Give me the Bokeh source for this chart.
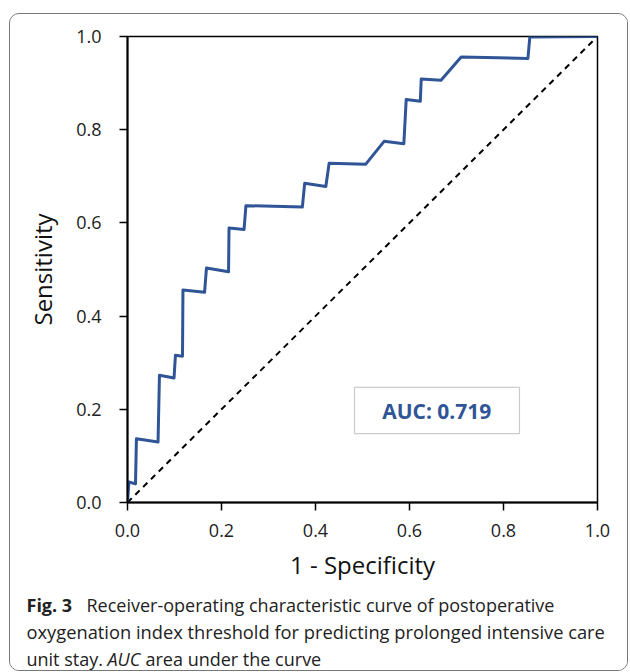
from bokeh.plotting import figure
from bokeh.models import Range1d, FixedTicker, Label, BoxAnnotation
from bokeh.layouts import column
from bokeh.embed import file_html
from bokeh.resources import INLINE

# ---- data ----
fpr = [0.000, 0.003, 0.017, 0.019, 0.065, 0.068, 0.099, 0.102, 0.117, 0.118,
       0.164, 0.168, 0.215, 0.216, 0.248, 0.252, 0.372, 0.377, 0.422, 0.429,
       0.507, 0.546, 0.588, 0.593, 0.623, 0.625, 0.667, 0.710, 0.852, 0.856, 1.000]
tpr = [0.000, 0.044, 0.040, 0.137, 0.130, 0.273, 0.267, 0.316, 0.314, 0.456,
       0.451, 0.503, 0.495, 0.589, 0.586, 0.637, 0.634, 0.685, 0.678, 0.728,
       0.726, 0.775, 0.770, 0.865, 0.861, 0.909, 0.906, 0.956, 0.953, 0.999, 1.000]
ref_x = [0.0, 1.0]
ref_y = [0.0, 1.0]
tick_vals = [0.0, 0.2, 0.4, 0.6, 0.8, 1.0]
tick_labels = ["0.0", "0.2", "0.4", "0.6", "0.8", "1.0"]
auc_text = "AUC: 0.719"
x_title = "1 - Specificity"
y_title = "Sensitivity"
cap_bold = "Fig. 3"
cap_line1 = "Receiver-operating characteristic curve of postoperative"
cap_line2 = "oxygenation index threshold for predicting prolonged intensive care"
cap_line3a = "unit stay."
cap_line3b = "AUC"
cap_line3c = "area under the curve"

FONT = "Open Sans"
BLUE = "#2F5597"

# page geometry (pixels)
OX, OY = 10, 14          # top-left of content inside the rounded border
CW = 617                 # content width
SPLIT = 590              # page y where plot ends and caption begins
BOTTOM = 670             # page y of caption bottom
FL, FT, FR, FB = 127, 36, 597, 502   # frame edges on page

p = figure(width=CW, height=SPLIT - OY, x_range=Range1d(0, 1), y_range=Range1d(0, 1),
           min_border_left=FL - OX, min_border_right=OX + CW - FR,
           min_border_top=FT - OY, min_border_bottom=SPLIT - FB,
           output_backend="svg", toolbar_location=None)

p.background_fill_color = "white"
p.border_fill_color = "white"
p.grid.visible = False
p.outline_line_color = "black"
p.outline_line_width = 1.5

for ax in (p.xaxis[0], p.yaxis[0]):
    ax.ticker = FixedTicker(ticks=tick_vals)
    ax.major_label_overrides = {v: s for v, s in zip(tick_vals, tick_labels)}
    ax.minor_tick_line_color = None
    ax.major_tick_in = 0
    ax.major_tick_out = 8
    ax.major_tick_line_color = "black"
    ax.major_tick_line_width = 1.5
    ax.axis_line_color = "black"
    ax.axis_line_width = 2
    ax.major_label_text_font = FONT
    ax.major_label_text_font_size = "18px"
    ax.major_label_text_color = "#222222"
    ax.axis_label_text_font = FONT
    ax.axis_label_text_font_size = "24px"
    ax.axis_label_text_font_style = "normal"
    ax.axis_label_text_color = "#111111"

p.xaxis.axis_label = x_title
p.yaxis.axis_label = y_title
p.xaxis.major_label_standoff = 13
p.xaxis.axis_label_standoff = 8
p.yaxis.major_label_standoff = 18
p.yaxis.axis_label_standoff = 14

p.line(ref_x, ref_y, line_color="black", line_width=2, line_dash="6 5")
p.line(fpr, tpr, line_color=BLUE, line_width=3, line_join="round")

p.add_layout(BoxAnnotation(left=0.483, right=0.834, bottom=0.148, top=0.247,
                           fill_alpha=0, line_color="#555555", line_width=1.2))
p.add_layout(Label(x=0.658, y=0.197, text=auc_text, text_align="center",
                   text_baseline="middle", text_font=FONT, text_font_size="21px",
                   text_font_style="bold", text_color=BLUE))

# caption figure: data coordinates equal page pixels
cf = figure(width=CW, height=BOTTOM - SPLIT, x_range=Range1d(OX, OX + CW),
            y_range=Range1d(BOTTOM, SPLIT), min_border=0,
            min_border_left=0, min_border_right=0, min_border_top=0, min_border_bottom=0,
            output_backend="svg", toolbar_location=None)
cf.axis.visible = False
cf.grid.visible = False
cf.outline_line_color = None
cf.background_fill_color = "white"
cf.border_fill_color = "white"
for fig in (p, cf):
    try:
        fig.frame_align = False
    except Exception:
        pass

def cap(x, y, txt, style="normal", size="18px"):
    cf.add_layout(Label(x=x, y=y, text=txt, text_align="left",
                        text_baseline="alphabetic", text_font=FONT,
                        text_font_size=size, text_font_style=style,
                        text_color="#222222"))

cap(26, 604, cap_bold, "bold")
cap(86, 604, cap_line1)
cap(26, 631, cap_line2, size="18.3px")
cap(26, 658, cap_line3a)
cap(107, 658, cap_line3b, "italic")
cap(145, 658, cap_line3c)

layout = column(p, cf, spacing=0, margin=(OY - 1, 0, 0, OX - 1),
                styles={"border": "1px solid #777777", "border-radius": "10px",
                        "overflow": "hidden"})

open("out.html", "w").write(file_html(layout, INLINE))
